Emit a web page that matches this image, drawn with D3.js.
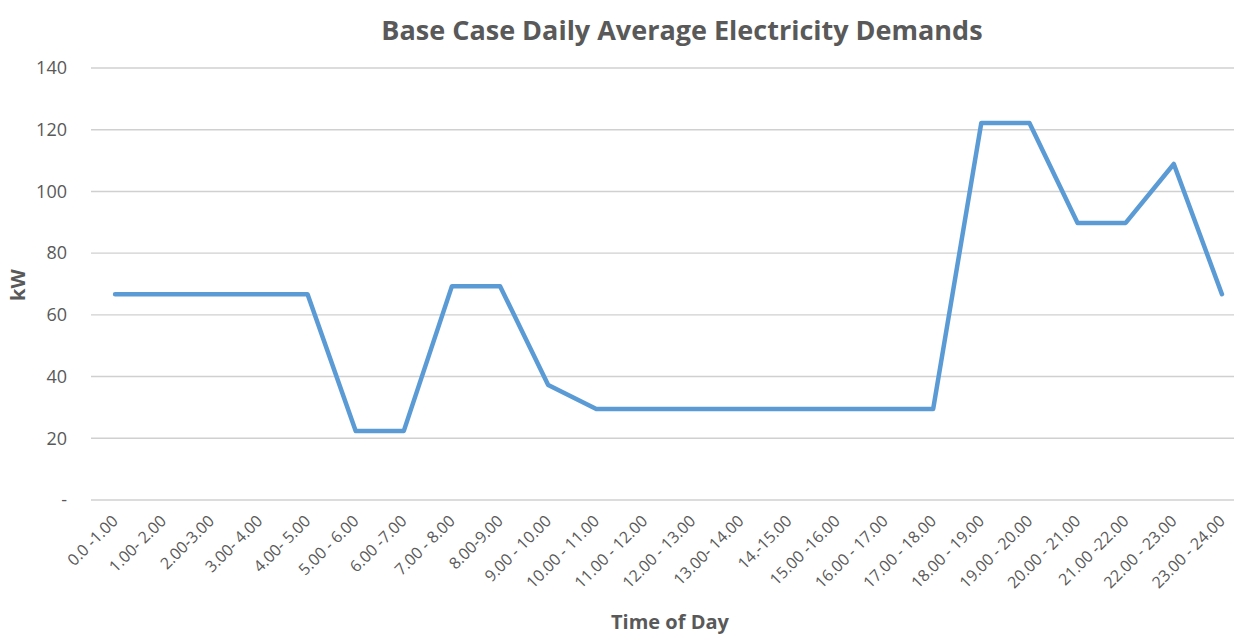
<!DOCTYPE html>
<html>
<head>
<meta charset="utf-8">
<script src="https://cdn.jsdelivr.net/npm/d3@7"></script>
<style>
  body { margin: 0; background: #fff; }
  text { font-family: "Open Sans", "Liberation Sans", sans-serif; }
</style>
</head>
<body>
<div id="chart"></div>
<script>
// time slots along the x axis (labels as they appear in the original)
var slots = ["0.0 -1.00", "1.00- 2.00", "2.00-3.00", "3.00- 4.00", "4.00- 5.00",
  "5.00 - 6.00", "6.00 -7.00", "7.00 - 8.00", "8.00-9.00", "9.00 - 10.00",
  "10.00 - 11.00", "11.00 - 12.00", "12.00 - 13.00", "13.00- 14.00", "14.-15.00",
  "15.00 -16.00", "16.00 - 17.00", "17.00 - 18.00", "18.00 - 19.00", "19.00 - 20.00",
  "20.00 - 21.00", "21.00 -22.00", "22.00 - 23.00", "23.00 - 24.00"];

// average demand, kW
var demand = [66.7, 66.7, 66.7, 66.7, 66.7, 22.4, 22.4, 69.3, 69.3, 37.3,
  29.5, 29.5, 29.5, 29.5, 29.5, 29.5, 29.5, 29.5, 122.2, 122.2,
  89.8, 89.8, 108.9, 66.7];

var yTicks = [0, 20, 40, 60, 80, 100, 120, 140];

var w = 1234, h = 634;
var m = { top: 68, right: -12, bottom: 134, left: 91 };

var svg = d3.select('#chart').append('svg')
  .attr('width', w)
  .attr('height', h);

var x = d3.scaleBand()
  .domain(slots)
  .range([m.left, w - m.right]);

var y = d3.scaleLinear()
  .domain([0, 140])
  .range([h - m.bottom, m.top]);

// gridlines
svg.append('g')
  .selectAll('line')
  .data(yTicks)
  .enter().append('line')
    .attr('x1', m.left)
    .attr('x2', 1234)
    .attr('y1', function(d) { return y(d); })
    .attr('y2', function(d) { return y(d); })
    .attr('stroke', '#d0d0d0')
    .attr('stroke-width', 1.4);

// y axis labels
var yAxis = d3.axisLeft(y)
  .tickValues(yTicks)
  .tickSize(0)
  .tickPadding(0)
  .tickFormat(function(d) { return d === 0 ? '-' : d; });

svg.append('g')
  .attr('transform', 'translate(' + (m.left - 24) + ',0)')
  .call(yAxis)
  .call(function(g) { g.select('.domain').remove(); })
  .selectAll('text')
    .attr('fill', '#595959')
    .style('font-size', '18px');

// x axis labels, rotated
var xAxis = d3.axisBottom(x).tickSize(0).tickPadding(0);

svg.append('g')
  .attr('transform', 'translate(0,' + (h - m.bottom) + ')')
  .call(xAxis)
  .call(function(g) { g.select('.domain').remove(); })
  .selectAll('text')
    .attr('fill', '#595959')
    .style('font-size', '16px')
    .attr('text-anchor', 'end')
    .attr('dy', '0.35em')
    .attr('transform', 'translate(0,18) rotate(-45)');

// demand line
var line = d3.line()
  .x(function(d, i) { return x(slots[i]) + x.bandwidth() / 2; })
  .y(function(d) { return y(d); });

svg.append('path')
  .datum(demand)
  .attr('d', line)
  .attr('fill', 'none')
  .attr('stroke', '#5b9bd5')
  .attr('stroke-width', 4.5)
  .attr('stroke-linejoin', 'round')
  .attr('stroke-linecap', 'round');

// titles
svg.append('text')
  .attr('x', 682)
  .attr('y', 40)
  .attr('text-anchor', 'middle')
  .attr('fill', '#595959')
  .style('font-size', '27px')
  .style('font-weight', 'bold')
  .text('Base Case Daily Average Electricity Demands');

svg.append('text')
  .attr('x', 670)
  .attr('y', 629)
  .attr('text-anchor', 'middle')
  .attr('fill', '#595959')
  .style('font-size', '20px')
  .style('font-weight', 'bold')
  .text('Time of Day');

svg.append('text')
  .attr('transform', 'translate(25,285) rotate(-90)')
  .attr('text-anchor', 'middle')
  .attr('fill', '#595959')
  .style('font-size', '20px')
  .style('font-weight', 'bold')
  .text('kW');
</script>
</body>
</html>
